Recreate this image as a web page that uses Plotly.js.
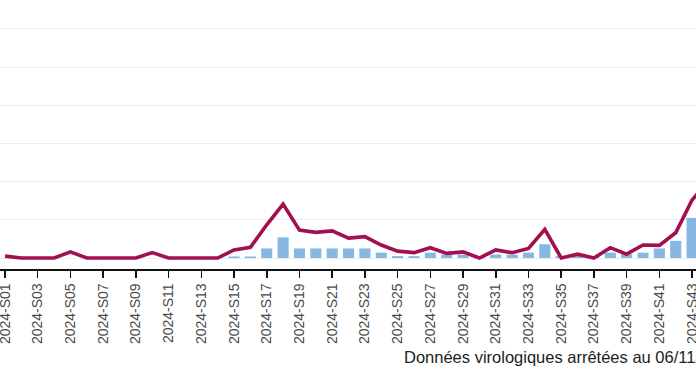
<!DOCTYPE html>
<html>
<head>
<meta charset="utf-8">
<script src="https://cdn.plot.ly/plotly-3.0.1.min.js"></script>
<style>html,body{margin:0;padding:0;background:#fff;}#chart{width:696px;height:385px;}</style>
</head>
<body>
<div id="chart"></div>
<script>
// Weeks (categories)
const weeks = ["2024-S01","2024-S02","2024-S03","2024-S04","2024-S05","2024-S06","2024-S07","2024-S08","2024-S09","2024-S10",
  "2024-S11","2024-S12","2024-S13","2024-S14","2024-S15","2024-S16","2024-S17","2024-S18","2024-S19","2024-S20",
  "2024-S21","2024-S22","2024-S23","2024-S24","2024-S25","2024-S26","2024-S27","2024-S28","2024-S29","2024-S30",
  "2024-S31","2024-S32","2024-S33","2024-S34","2024-S35","2024-S36","2024-S37","2024-S38","2024-S39","2024-S40",
  "2024-S41","2024-S42","2024-S43","2024-S44"];
// Bars: virological data (estimated)
const barValues = [0,0,0,0,0,0,0,0,0,0,
  0,0,0,0,0.4,0.4,2.5,5.4,2.5,2.5,
  2.5,2.5,2.5,1.4,0.5,0.5,1.4,0.9,0.9,0.5,
  0.9,0.9,1.4,3.6,0.5,0.5,0.3,1.4,1.0,1.4,
  2.5,4.5,10.5,14];
// Line (estimated)
const lineValues = [0.5,0,0,0,1.6,0,0,0,0,1.4,
  0,0,0,0,2.1,2.8,8.7,14.1,7.3,6.7,
  7.1,5.2,5.6,3.4,1.8,1.4,2.7,1.2,1.6,0,
  2.1,1.4,2.5,7.5,0,1.0,0,2.7,1.0,3.4,
  3.3,6.6,15.2,20];
// Tick labels (every other week)
const tickLabels = ["2024-S01","2024-S03","2024-S05","2024-S07","2024-S09","2024-S11","2024-S13","2024-S15","2024-S17","2024-S19","2024-S21",
  "2024-S23","2024-S25","2024-S27","2024-S29","2024-S31","2024-S33","2024-S35","2024-S37","2024-S39","2024-S41","2024-S43"];
const noteText = "Données virologiques arrêtées au 06/11/2024";

const traces = [
  {type:"bar", x:weeks, y:barValues, marker:{color:"#86b8e3"}, hoverinfo:"skip", showlegend:false},
  {type:"scatter", mode:"lines", x:weeks, y:lineValues, line:{color:"#a3104f", width:3.6}, hoverinfo:"skip", showlegend:false}
];

const layout = {
  width:696, height:385,
  margin:{l:0, r:0, t:0, b:116, pad:0},
  paper_bgcolor:"#ffffff", plot_bgcolor:"#ffffff",
  bargap:0.32,
  font:{family:"Arial, 'Liberation Sans', sans-serif", color:"#444"},
  xaxis:{
    type:"category", categoryorder:"array", categoryarray:weeks,
    range:[-0.306, 42.24],
    tickmode:"array", tickvals:tickLabels, ticktext:tickLabels,
    tickangle:-90, ticks:"outside", ticklen:7, tickwidth:1.5, tickcolor:"#111",
    tickfont:{size:14, color:"#4a4a4a"},
    showline:true, linecolor:"#111", linewidth:1.8,
    showgrid:false, zeroline:false
  },
  yaxis:{
    range:[-2.88, 67.54], tick0:0, dtick:10,
    showgrid:true, gridcolor:"#ececec", gridwidth:1,
    zeroline:false, showline:false, showticklabels:false, ticks:""
  },
  annotations:[{
    text:noteText, xref:"paper", yref:"paper", x:402/696, y:-0.327,
    xanchor:"left", yanchor:"middle", showarrow:false,
    font:{size:16.5, color:"#222"}
  }]
};

Plotly.newPlot("chart", traces, layout, {staticPlot:true, displayModeBar:false});
</script>
</body>
</html>
